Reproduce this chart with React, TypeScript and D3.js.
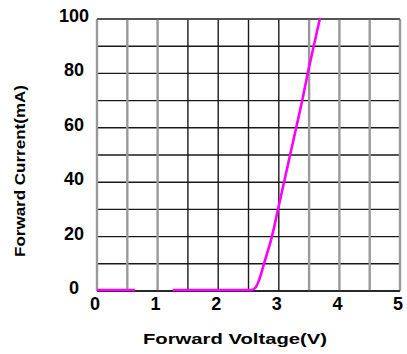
import React from "react";
import * as d3 from "d3";

// forward characteristic
const voltsLow: number[] = [0, 0.63];
const currentLow: number[] = [0, 0];
const volts: number[] = [1.25, 2.55, 2.62, 2.68, 2.76, 2.89, 2.99, 3.09, 3.19, 3.29, 3.39, 3.48, 3.58, 3.68];
const current: number[] = [0, 0, 1, 4, 10, 20, 30, 40, 50, 60, 70, 80, 90, 100];

const xTicks: number[] = [0, 1, 2, 3, 4, 5];
const yTicks: number[] = [0, 20, 40, 60, 80, 100];
const xGrid: number[] = d3.range(0, 5.01, 0.5);
const yGrid: number[] = d3.range(0, 100.1, 10);

const App = (): React.JSX.Element => {
  const width = 407;
  const height = 354;
  const x = d3.scaleLinear([0, 5], [97, 400]);
  const y = d3.scaleLinear([0, 100], [291, 19]);

  const mkPath = (vs: number[], is: number[]): string =>
    d3
      .line<[number, number]>((d) => x(d[0]), (d) => y(d[1]))
      .curve(d3.curveMonotoneX)(vs.map((v, i) => [v, is[i]])) as string;

  const font = "'Liberation Sans', Arial, sans-serif";

  return (
    <svg
      width={width}
      height={height}
      style={{ position: "absolute", left: 0, top: 0, background: "#fff" }}
    >
      <g>
        {yGrid.map((v, i) => (
          <line key={"h" + i} x1={x(0)} x2={x(5)} y1={y(v)} y2={y(v)} stroke="#1a1a1a" strokeWidth={1.4} />
        ))}
        {xGrid.map((v, i) => {
          const light = i < 3 || i > 6;
          return (
            <line
              key={"v" + i}
              x1={x(v)}
              x2={x(v)}
              y1={y(100)}
              y2={y(0)}
              stroke={light ? "#9a9a9a" : "#1a1a1a"}
              strokeWidth={light ? 2.4 : 1.4}
            />
          );
        })}
        <line x1={x(0)} x2={x(5)} y1={y(100)} y2={y(100)} stroke="#555" strokeWidth={1.4} />
        <line x1={x(0)} x2={x(5)} y1={y(0)} y2={y(0)} stroke="#1a1a1a" strokeWidth={1.6} />
      </g>
      <g fill="none" stroke="#ff00ff" strokeWidth={2.6}>
        <path d={mkPath(voltsLow, currentLow)} transform="translate(0,-1)" />
        <path d={mkPath(volts, current)} transform="translate(0,-1)" />
      </g>
      <g fontFamily={font} fontWeight="bold" fontSize={18} fill="#000">
        {yTicks.map((t) => (
          <text key={"yt" + t} x={74} y={y(t) - 3} textAnchor="middle" dominantBaseline="central">
            {t}
          </text>
        ))}
        {xTicks.map((t) => (
          <text key={"xt" + t} x={x(t) - 2} y={310} textAnchor="middle">
            {t}
          </text>
        ))}
      </g>
      <g fontFamily={font} fontWeight="bold" fontSize={15} fill="#000">
        <text x={235} y={344} textAnchor="middle" textLength={184} lengthAdjust="spacingAndGlyphs">
          Forward Voltage(V)
        </text>
        <text
          transform="translate(25,171) rotate(-90)"
          textAnchor="middle"
          textLength={172}
          lengthAdjust="spacingAndGlyphs"
        >
          Forward Current(mA)
        </text>
      </g>
    </svg>
  );
};

export default App;
